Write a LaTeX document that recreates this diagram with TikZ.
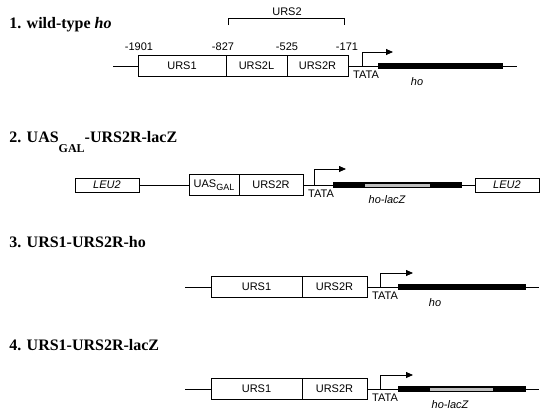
\documentclass[tikz,border=0pt]{standalone}
\usepackage{fontspec}
\setmainfont{Liberation Serif}
\setsansfont{Liberation Sans}
\usetikzlibrary{arrows.meta}

\begin{document}
\begin{tikzpicture}[x=1pt, y=-1pt, line width=0.8pt,
    seg/.style={draw, minimum height=21pt, inner sep=0pt, font=\fontsize{11}{11}\selectfont\sffamily},
    marker/.style={draw, minimum height=14pt, inner sep=0pt, font=\fontsize{11}{11}\selectfont\sffamily\itshape},
    lbl/.style={anchor=base, inner sep=0pt, font=\fontsize{11}{11}\selectfont\sffamily},
    genelbl/.style={lbl, font=\fontsize{11}{11}\selectfont\sffamily\itshape},
    title/.style={anchor=base west, inner sep=0pt, font=\fontsize{16}{16}\selectfont\bfseries},
    gene/.style={line width=5.5pt},
    fusion/.style={line width=3pt, gray!50},
    tss/.style={-{Triangle[length=7pt, width=6pt]}}]
  \useasboundingbox (0,0) rectangle (546,415);

  % 1. wild-type ho
  \node[title] (t1) at (9,28) {1. wild-type \textit{ho}};
  \coordinate (a0) at (113,66);
  \node[seg, minimum width=88pt] (a1) at (182,66) {URS1};
  \node[seg, minimum width=61pt] (a2) at (256.5,66) {URS2L};
  \node[seg, minimum width=61pt] (a3) at (317.5,66) {URS2R};
  \coordinate (atata) at (378,66);
  \coordinate (aend) at (503,66);
  \coordinate (atail) at (517,66);
  \draw (a0) -- (a1.west);
  \draw (a3.east) -- (atata);
  \draw[gene] (atata) -- (aend);
  \draw (aend) -- (atail);
  \coordinate (as) at (362,66);
  \coordinate (aa) at (393,52);
  \draw[tss] (as) |- (aa);
  \node[lbl] (k1) at (366,78) {TATA};
  \node[genelbl] (g1) at (417,85) {ho};
  \node[lbl] (p1) at (139,50) {-1901};
  \node[lbl] (p2) at (223,50) {-827};
  \node[lbl] (p3) at (287,50) {-525};
  \node[lbl] (p4) at (347,50) {-171};
  \coordinate (bl) at (228,25);
  \coordinate (br) at (344,25);
  \draw (bl) -- ++(0,-7) -| (br);
  \node[lbl] (u2) at (287,15) {URS2};

  % 2. UAS-GAL - URS2R - lacZ
  \node[title] (t2) at (9,142) {2. UAS\raisebox{-10pt}{\fontsize{12}{12}\selectfont GAL}-URS2R-lacZ};
  \node[marker, minimum width=64pt] (l1) at (107,185) {LEU2};
  \node[seg, minimum width=50pt] (b1) at (214,185) {UAS\raisebox{-3pt}{\fontsize{9}{9}\selectfont GAL}};
  \node[seg, minimum width=64pt] (b2) at (271,185) {URS2R};
  \node[marker, minimum width=64pt] (l2) at (507,185) {LEU2};
  \coordinate (btata) at (333,185);
  \coordinate (bend) at (462,185);
  \coordinate (bf1) at (365,185);
  \coordinate (bf2) at (430,185);
  \draw (l1.east) -- (b1.west);
  \draw (b2.east) -- (btata);
  \draw[gene] (btata) -- (bend);
  \draw[fusion] (bf1) -- (bf2);
  \draw (bend) -- (l2.west);
  \coordinate (bs) at (314,185);
  \coordinate (ba) at (346,169);
  \draw[tss] (bs) |- (ba);
  \node[lbl] (k2) at (321,197) {TATA};
  \node[genelbl] (g2) at (387,203) {ho-lacZ};

  % 3. URS1-URS2R-ho
  \node[title] (t3) at (9,247) {3. URS1-URS2R-ho};
  \coordinate (c0) at (185,287);
  \node[seg, minimum width=91pt] (c1) at (256.5,287) {URS1};
  \node[seg, minimum width=65pt] (c2) at (334.5,287) {URS2R};
  \coordinate (ctata) at (398,287);
  \coordinate (cend) at (526,287);
  \coordinate (ctail) at (539,287);
  \draw (c0) -- (c1.west);
  \draw (c2.east) -- (ctata);
  \draw[gene] (ctata) -- (cend);
  \draw (cend) -- (ctail);
  \coordinate (cs) at (380,287);
  \coordinate (ca) at (413,273);
  \draw[tss] (cs) |- (ca);
  \node[lbl] (k3) at (385,299) {TATA};
  \node[genelbl] (g3) at (435,306) {ho};

  % 4. URS1-URS2R-lacZ
  \node[title] (t4) at (9,350) {4. URS1-URS2R-lacZ};
  \coordinate (d0) at (185,389);
  \node[seg, minimum width=91pt] (d1) at (256.5,389) {URS1};
  \node[seg, minimum width=65pt] (d2) at (334.5,389) {URS2R};
  \coordinate (dtata) at (398,389);
  \coordinate (dend) at (526,389);
  \coordinate (dtail) at (539,389);
  \coordinate (df1) at (430,389);
  \coordinate (df2) at (493,389);
  \draw (d0) -- (d1.west);
  \draw (d2.east) -- (dtata);
  \draw[gene] (dtata) -- (dend);
  \draw[fusion] (df1) -- (df2);
  \draw (dend) -- (dtail);
  \coordinate (ds) at (380,389);
  \coordinate (da) at (413,375);
  \draw[tss] (ds) |- (da);
  \node[lbl] (k4) at (385,401) {TATA};
  \node[genelbl] (g4) at (450,408) {ho-lacZ};
\end{tikzpicture}
\end{document}
